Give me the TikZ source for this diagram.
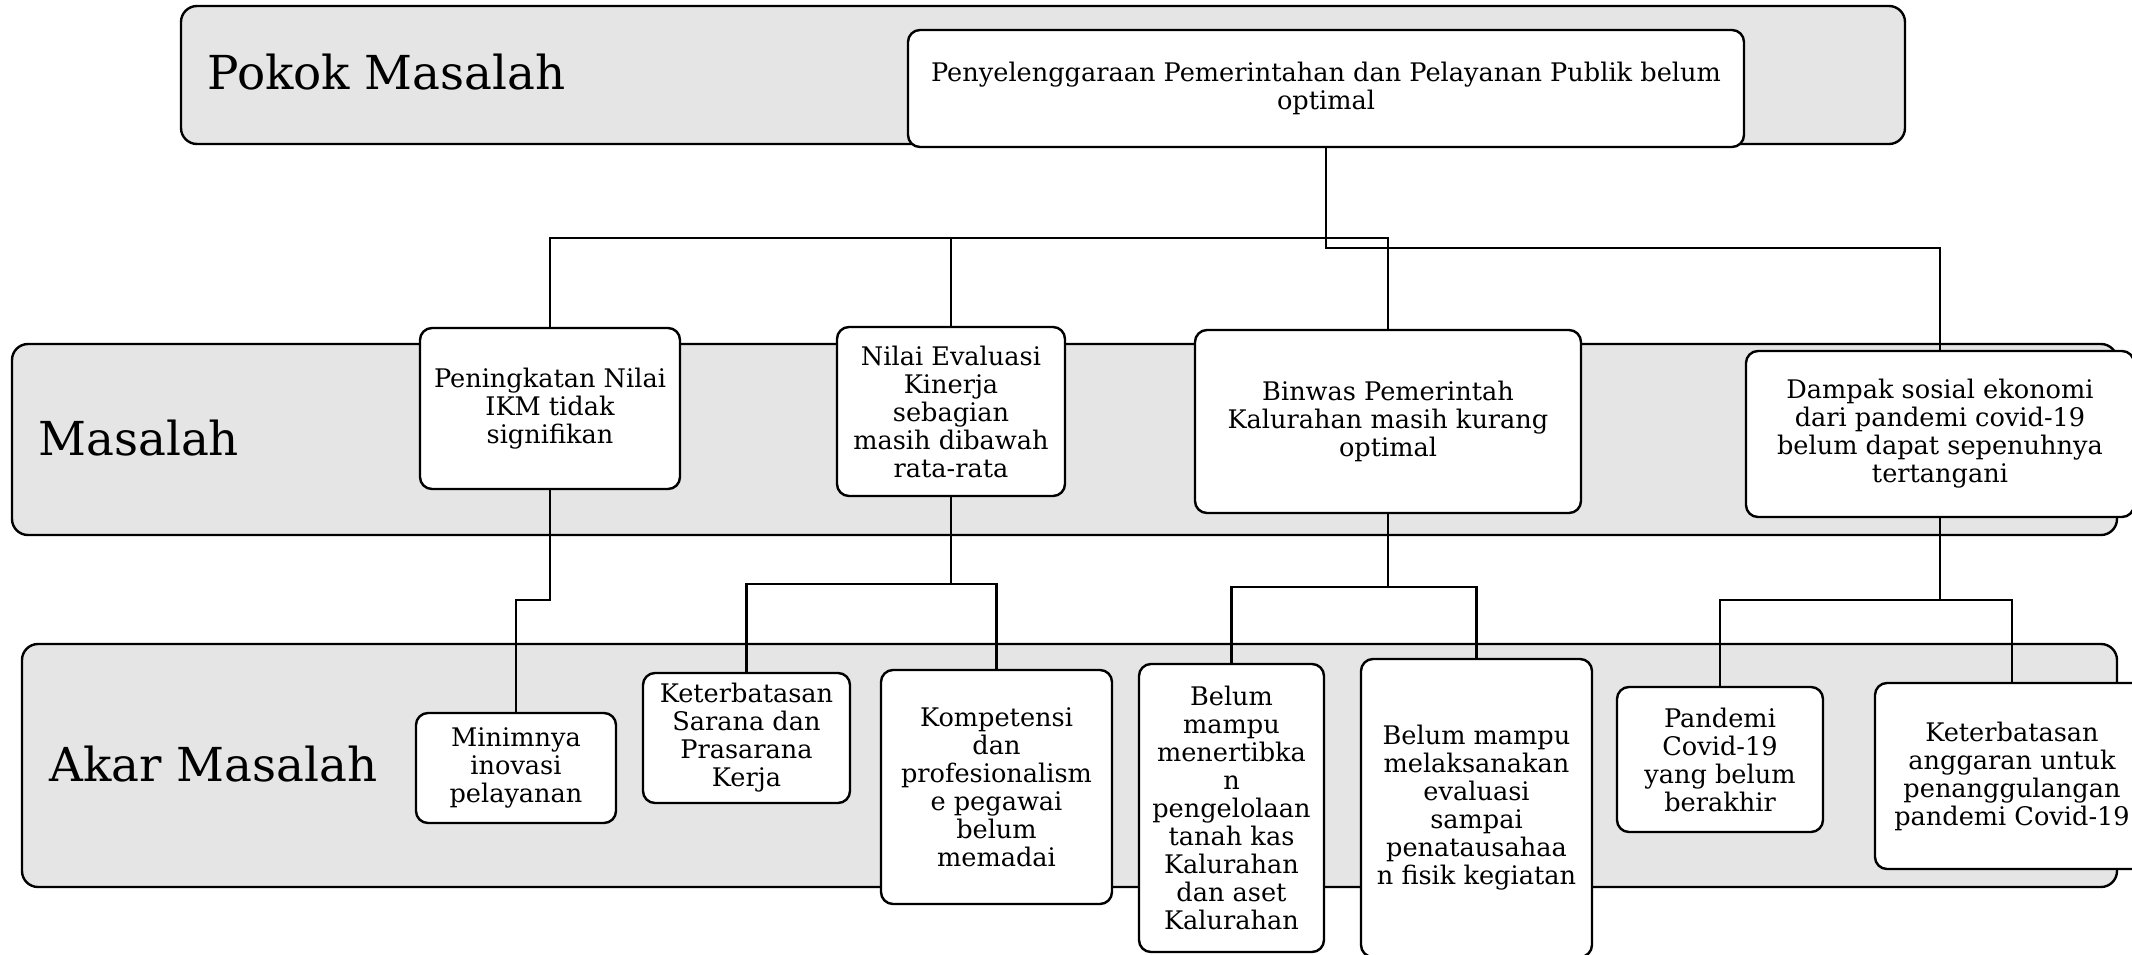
\documentclass[tikz,border=0pt]{standalone}
\usepackage{fontspec}
\setmainfont{DejaVu Serif}
\usepackage{tikz}

\begin{document}
\begin{tikzpicture}[x=0.5pt,y=-0.5pt,
        band/.style={draw, fill=gray!20, rounded corners=8pt, line width=1.2pt},
        box/.style={draw, fill=white, rounded corners=6pt, line width=1.2pt, align=center, inner sep=1pt, font=\fontsize{12.8}{14}\selectfont},
        lbl/.style={anchor=west, inner sep=0pt, font=\fontsize{23.4}{27}\selectfont},
        conn/.style={draw, line width=1.2pt}]
        \useasboundingbox (0,0) rectangle (2132,954);

        \draw[band] (181,6) rectangle (1905,144);
        \draw[band] (12,344) rectangle (2117,535);
        \draw[band] (22,644) rectangle (2117,887);

        \node[lbl] (l1) at (207,72) {Pokok Masalah};
        \node[lbl] (l2) at (38,438) {Masalah};
        \node[lbl] (l3) at (49,764) {Akar Masalah};

        \node[box, minimum width=418pt, minimum height=58.5pt] (t0) at (1326,88.5) {Penyelenggaraan Pemerintahan dan Pelayanan Publik belum\\optimal};

        \node[box, minimum width=130pt, minimum height=80.5pt] (m1) at (550,408.5) {Peningkatan Nilai\\IKM tidak\\signifikan};
        \node[box, minimum width=114pt, minimum height=84.5pt] (m2) at (951,411.5) {Nilai Evaluasi\\Kinerja\\sebagian\\masih dibawah\\rata-rata};
        \node[box, minimum width=193pt, minimum height=91.5pt] (m3) at (1388,421.5) {Binwas Pemerintah\\Kalurahan masih kurang\\optimal};
        \node[box, minimum width=194pt, minimum height=83pt] (m4) at (1940,434) {Dampak sosial ekonomi\\dari pandemi covid-19\\belum dapat sepenuhnya\\tertangani};

        \node[box, minimum width=100pt, minimum height=55pt] (a1) at (516,768) {Minimnya\\inovasi\\pelayanan};
        \node[box, minimum width=103.5pt, minimum height=65pt] (a2) at (746.5,738) {Keterbatasan\\Sarana dan\\Prasarana\\Kerja};
        \node[box, minimum width=115.5pt, minimum height=117pt] (a3) at (996.5,787) {Kompetensi\\dan\\profesionalism\\e pegawai\\belum\\memadai};
        \node[box, minimum width=92.5pt, minimum height=144pt] (a4) at (1231.5,808) {Belum\\mampu\\menertibka\\n\\pengelolaan\\tanah kas\\Kalurahan\\dan aset\\Kalurahan};
        \node[box, minimum width=115.5pt, minimum height=149pt] (a5) at (1476.5,808) {Belum mampu\\melaksanakan\\evaluasi\\sampai\\penatausahaa\\n fisik kegiatan};
        \node[box, minimum width=103pt, minimum height=72.5pt] (a6) at (1720,759.5) {Pandemi\\Covid-19\\yang belum\\berakhir};
        \node[box, minimum width=137pt, minimum height=93pt] (a7) at (2012,776) {Keterbatasan\\anggaran untuk\\penanggulangan\\pandemi Covid-19};

        \path[conn] (t0.south) -- (t0.south |- 0,238) -| (m1.north);
        \path[conn] (t0.south) -- (t0.south |- 0,238) -| (m2.north);
        \path[conn] (t0.south) -- (t0.south |- 0,238) -| (m3.north);
        \path[conn] (t0.south) -- (t0.south |- 0,248) -| (m4.north);

        \path[conn] (m1.south) -- (m1.south |- 0,600) -| (a1.north);

        \path[conn] (m2.south) -- (m2.south |- 0,584) -| (a2.north);
        \path[conn] (m2.south) -- (m2.south |- 0,584) -| (a3.north);

        \path[conn] (m3.south) -- (m3.south |- 0,587) -| (a4.north);
        \path[conn] (m3.south) -- (m3.south |- 0,587) -| (a5.north);

        \path[conn] (m4.south) -- (m4.south |- 0,600) -| (a6.north);
        \path[conn] (m4.south) -- (m4.south |- 0,600) -| (a7.north);
\end{tikzpicture}
\end{document}
